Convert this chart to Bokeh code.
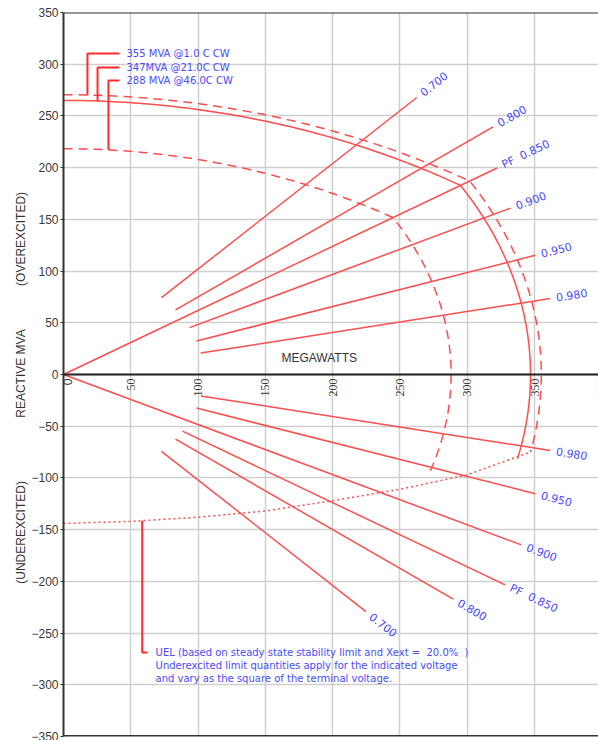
import numpy as np
from bokeh.plotting import figure
from bokeh.models import ColumnDataSource, FixedTicker, Span, Label, LabelSet, Range1d
from bokeh.core.properties import value
from bokeh.embed import file_html
from bokeh.resources import INLINE

# ---- axes -------------------------------------------------------------
X_MAX = 397.5
Y_MIN, Y_MAX = -350, 350
X_TICKS = [0, 50, 100, 150, 200, 250, 300, 350, 400]
Y_TICKS = [-350, -300, -250, -200, -150, -100, -50, 0, 50, 100, 150, 200, 250, 300, 350]
Y_TITLES = ["(UNDEREXCITED)", "REACTIVE MVA", "(OVEREXCITED)"]

# ---- capability curves (MVA rating, Q at P=0, Q where the arc stops) --
CURVE_NAMES = ["355 MVA @1.0 C CW", "347MVA @21.0C CW", "288 MVA @46.0C CW"]
CURVE_MVA = [355, 347, 288]
CURVE_Q_AT_ZERO = [270.5, 265.0, 218.3]
CURVE_Q_END = [-75.0, -81.6, -97.0]
CURVE_DASH = ["9 6", "solid", "9 6"]
RATED_PF = 0.85

# leader lines for the curve names
LEADER_P = [17.8, 25.3, 33.4]
LEADER_Q = [310.4, 296.9, 284.3]
LEADER_P_RIGHT = 41.6
NAME_P = 46.8

# ---- power-factor rays (radial extent in MVA) -------------------------
PF_UPPER = [0.700, 0.800, 0.850, 0.900, 0.950, 0.980]
UPPER_S_START = [104, 104, 0, 104, 104, 104]
UPPER_S_END = [375, 399, 379, 369, 369, 369]
PF_LOWER = [0.980, 0.950, 0.900, 0.850, 0.800, 0.700]
LOWER_S_START = [104, 104, 0, 104, 104, 104]
LOWER_S_END = [369, 369, 378, 386, 362, 321]

# ---- under-excitation limit --------------------------------------------
UEL_P = [0, 50, 100, 150, 200, 250, 300, 347]
UEL_Q = [-144, -142, -138, -132, -122, -111, -97, -75]
UEL_LEADER_P = 58.5
UEL_LEADER_P_RIGHT = 62.4
UEL_NOTE_P = 68.4
UEL_NOTE_Q = [-268.9, -281.4, -294.0]
NB = "\u00a0"
UEL_NOTE = [
    f"UEL (based on steady state stability limit and Xext ={NB} 20.0%{NB} )",
    "Underexcited limit quantities apply for the indicated voltage",
    "and vary as the square of the terminal voltage.",
]

RED = "#ff4d4d"
LEAD_RED = "#ff2b2b"
BLUE = "#4a4aff"
DARK = "#333333"

FRAME_W, FRAME_H = 535, 724
KX = FRAME_W / X_MAX
KY = FRAME_H / (Y_MAX - Y_MIN)

p = figure(frame_width=FRAME_W, frame_height=FRAME_H,
           x_range=Range1d(0, X_MAX), y_range=Range1d(Y_MIN, Y_MAX),
           x_axis_location=None, y_axis_location="left",
           min_border_left=63, min_border_right=0, min_border_top=12, min_border_bottom=4,
           toolbar_location=None, output_backend="svg")
p.outline_line_color = None
p.background_fill_color = "white"
p.border_fill_color = "white"

# grid
p.xgrid.ticker = FixedTicker(ticks=X_TICKS)
p.ygrid.ticker = FixedTicker(ticks=Y_TICKS)
for g in (p.xgrid, p.ygrid):
    g.grid_line_color = "#cfcfcf"
    g.grid_line_width = 1.5

# left axis; its title carries the three stacked captions
ax = p.yaxis[0]
ax.ticker = FixedTicker(ticks=Y_TICKS)
ax.axis_line_color = DARK
ax.axis_line_width = 2
ax.major_tick_line_color = DARK
ax.major_tick_out = 3
ax.major_tick_in = 0
ax.minor_tick_line_color = None
ax.major_label_standoff = 2
ax.major_label_text_font = "Liberation Sans"
ax.major_label_text_font_size = "12px"
ax.major_label_text_color = "#3a3a3a"
ax.axis_label = (Y_TITLES[0] + NB * 19 + Y_TITLES[1] + NB * 13 + Y_TITLES[2] + NB * 8)
ax.axis_label_text_font = "Liberation Sans"
ax.axis_label_text_font_size = "12px"
ax.axis_label_text_font_style = "normal"
ax.axis_label_text_color = DARK
ax.axis_label_standoff = 0

# frame borders and the zero line
p.add_layout(Span(location=Y_MAX, dimension="width", line_color=DARK, line_width=2))
p.add_layout(Span(location=Y_MIN, dimension="width", line_color=DARK, line_width=3))
p.add_layout(Span(location=0, dimension="width", line_color="#222222", line_width=2))

# x tick labels hanging below the zero line
xt = ColumnDataSource(dict(x=X_TICKS[1:], y=[0] * (len(X_TICKS) - 1),
                           t=[str(v) for v in X_TICKS[1:]]))
tick_style = dict(angle=np.pi / 2, text_align="right", text_baseline="middle",
                  y_offset=-4, text_font="Liberation Sans", text_font_size="12px",
                  text_color="#3a3a3a")
p.add_layout(LabelSet(x="x", y="y", text="t", source=xt, **tick_style))
p.add_layout(Label(x=X_TICKS[0], y=0, text=str(X_TICKS[0]), x_offset=4, **tick_style))

p.add_layout(Label(x=190, y=15.5, text="MEGAWATTS", text_align="center",
                   text_baseline="middle", text_font="Liberation Sans",
                   text_font_size="12px", text_color=DARK))


# ---- capability curves ---------------------------------------------------
def field_arc(mva, q0, pf):
    cx, cy = mva * pf, mva * np.sqrt(1 - pf ** 2)
    a = (mva ** 2 - q0 ** 2) / (2 * (q0 - cy))
    r = q0 + a
    return a, r, cx


def curve_points(mva, q0, q_end, pf):
    a, r, cx = field_arc(mva, q0, pf)
    pf_ = np.linspace(0, cx, 80)
    qf_ = -a + np.sqrt(r ** 2 - pf_ ** 2)
    t = np.linspace(np.arccos(pf), np.arcsin(q_end / mva), 120)
    return (np.concatenate([pf_, mva * np.cos(t)]),
            np.concatenate([qf_, mva * np.sin(t)]))


def field_q(mva, q0, pf, pp):
    a, r, _ = field_arc(mva, q0, pf)
    return -a + np.sqrt(r ** 2 - pp ** 2)


for mva, q0, qe, dash in zip(CURVE_MVA, CURVE_Q_AT_ZERO, CURVE_Q_END, CURVE_DASH):
    xs, ys = curve_points(mva, q0, qe, RATED_PF)
    p.line(xs, ys, line_color=RED, line_width=1.5, line_dash=dash)

# UEL
p.line(UEL_P, UEL_Q, line_color=RED, line_width=1.5, line_dash="2 3")

# ---- power-factor rays and their labels -----------------------------------
GAP_PX = 6
rays_x, rays_y = [], []
lab = dict(x=[], y=[], t=[], a=[])
for pfs, s0s, s1s, sign in [(PF_UPPER, UPPER_S_START, UPPER_S_END, 1),
                            (PF_LOWER, LOWER_S_START, LOWER_S_END, -1)]:
    for pf, s0, s1 in zip(pfs, s0s, s1s):
        c, s = pf, sign * np.sqrt(1 - pf ** 2)
        rays_x.append([s0 * c, s1 * c])
        rays_y.append([s0 * s, s1 * s])
        step = np.hypot(KX * c, KY * s)
        sl = s1 + GAP_PX / step
        lab["x"].append(sl * c)
        lab["y"].append(sl * s)
        lab["t"].append(("PF" + NB * 2 if pf == 0.85 else "") + f"{pf:.3f}")
        lab["a"].append(np.arctan2(KY * s, KX * c))

p.multi_line(rays_x, rays_y, line_color=RED, line_width=1.5)
p.text(x="x", y="y", text="t", angle="a", source=ColumnDataSource(lab),
       text_align="left", text_baseline="middle", text_color=BLUE,
       text_font=value("DejaVu Sans"), text_font_size="11px")

# ---- curve name callouts ----------------------------------------------------
lx, ly = [], []
for mva, q0, pv, qt in zip(CURVE_MVA, CURVE_Q_AT_ZERO, LEADER_P, LEADER_Q):
    lx.append([LEADER_P_RIGHT, pv, pv])
    ly.append([qt, qt, float(field_q(mva, q0, RATED_PF, pv))])
uel_top = float(np.interp(UEL_LEADER_P, UEL_P, UEL_Q))
lx.append([UEL_LEADER_P, UEL_LEADER_P, UEL_LEADER_P_RIGHT])
ly.append([uel_top, UEL_NOTE_Q[0], UEL_NOTE_Q[0]])
p.multi_line(lx, ly, line_color=LEAD_RED, line_width=2)

p.text(x=[NAME_P] * 3, y=LEADER_Q, text=CURVE_NAMES, text_align="left",
       text_baseline="middle", text_color=BLUE,
       text_font=value("DejaVu Sans"), text_font_size="10px")
p.text(x=[UEL_NOTE_P] * 3, y=UEL_NOTE_Q, text=UEL_NOTE, text_align="left",
       text_baseline="middle", text_color=BLUE,
       text_font=value("DejaVu Sans"), text_font_size="10px")

open("out.html", "w").write(file_html(p, INLINE))
